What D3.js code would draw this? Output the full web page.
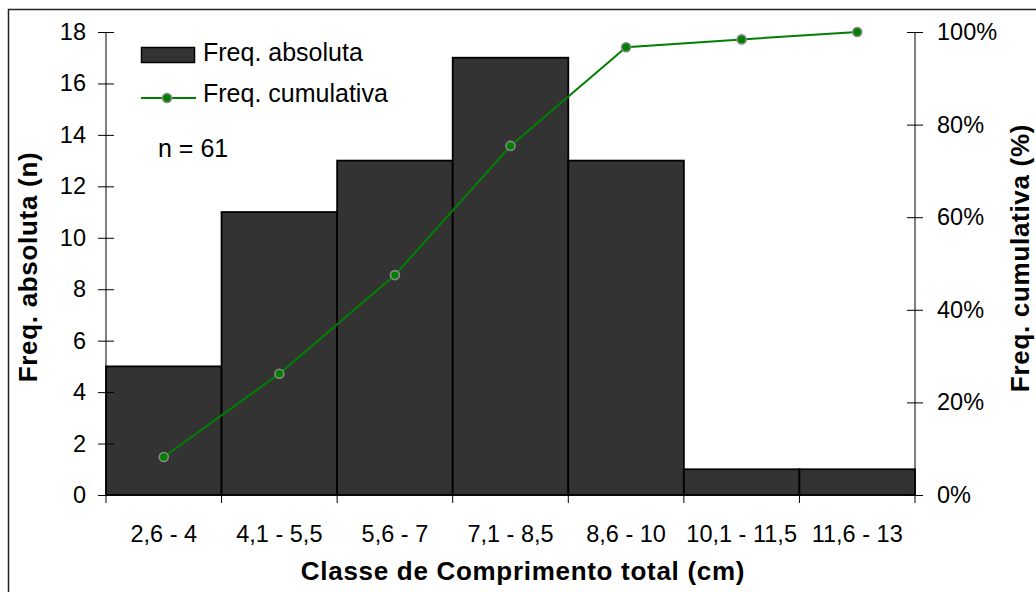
<!DOCTYPE html>
<html><head><meta charset="utf-8">
<script src="https://cdn.jsdelivr.net/npm/d3@7"></script>
<style>body{margin:0;background:#fff}svg{display:block}text{font-family:"Liberation Sans",Arial,sans-serif;fill:#000}</style>
</head><body>
<svg id="c" width="1036" height="592"></svg>
<script>
const categories = ["2,6 - 4","4,1 - 5,5","5,6 - 7","7,1 - 8,5","8,6 - 10","10,1 - 11,5","11,6 - 13"];
const freqAbs = [5, 11, 13, 17, 13, 1, 1];
const freqCum = [8.2, 26.2, 47.5, 75.4, 96.7, 98.4, 100];
const leftTicks = [0,2,4,6,8,10,12,14,16,18];
const rightTicks = [0,20,40,60,80,100];
const legendLabels = ["Freq. absoluta","Freq. cumulativa"];
const nLabel = "n = 61";
const xTitle = "Classe de Comprimento total (cm)";
const yTitleL = "Freq. absoluta (n)";
const yTitleR = "Freq. cumulativa (%)";

const svg = d3.select("#c");
const L = 106, R = 915, T = 32, B = 495;
const x = d3.scaleBand().domain(categories).range([L, R]).padding(0);
const yL = d3.scaleLinear().domain([0, 18]).range([B, T]);
const yR = d3.scaleLinear().domain([0, 100]).range([B, T]);

// outer frame
svg.append("rect").attr("x", 8.5).attr("y", 9.5).attr("width", 1100).attr("height", 700)
  .attr("fill", "none").attr("stroke", "#222").attr("stroke-width", 1.5);

// bars
svg.append("g").selectAll("rect").data(freqAbs).join("rect")
  .attr("x", (d, i) => x(categories[i]))
  .attr("y", d => yL(d))
  .attr("width", x.bandwidth())
  .attr("height", d => B - yL(d))
  .attr("fill", "#333333").attr("stroke", "#000").attr("stroke-width", 1.8);

const tickFont = "23.5px";
// left axis
const gL = svg.append("g").attr("transform", `translate(${L},0)`)
  .call(d3.axisLeft(yL).tickValues(leftTicks).tickSize(8).tickPadding(12));
gL.selectAll(".tick line").attr("x1", 8).attr("x2", -8);
// right axis
const gR = svg.append("g").attr("transform", `translate(${R},0)`)
  .call(d3.axisRight(yR).tickValues(rightTicks).tickSize(8).tickPadding(14).tickFormat(d => d + "%"));
gR.selectAll(".tick line").attr("x1", -8).attr("x2", 8);
// bottom axis
const gB = svg.append("g").attr("transform", `translate(0,${B})`)
  .call(d3.axisBottom(x).tickSize(0).tickPadding(30));
const bounds = categories.map(c => x(c)).concat([R]);
gB.selectAll(".bt").data(bounds).join("line").attr("class", "bt")
  .attr("x1", d => d).attr("x2", d => d).attr("y1", 0).attr("y2", 8).attr("stroke", "#000");

[gL, gR, gB].forEach(g => {
  g.selectAll("path.domain").remove();
  g.selectAll("text").style("font-family", '"Liberation Sans",Arial,sans-serif').style("font-size", tickFont).attr("fill", "#000");
  g.selectAll(".tick line").attr("stroke", "#000");
});
gL.append("line").attr("x1", 0).attr("x2", 0).attr("y1", T).attr("y2", B).attr("stroke", "#000");
gR.append("line").attr("x1", 0).attr("x2", 0).attr("y1", T).attr("y2", B).attr("stroke", "#000");
gB.append("line").attr("x1", L).attr("x2", R).attr("y1", 0).attr("y2", 0).attr("stroke", "#000");

// cumulative line
const line = d3.line().x((d, i) => x(categories[i]) + x.bandwidth() / 2).y(d => yR(d));
svg.append("path").datum(freqCum).attr("d", line).attr("fill", "none").attr("stroke", "#008000").attr("stroke-width", 2);
svg.append("g").selectAll("circle").data(freqCum).join("circle")
  .attr("cx", (d, i) => x(categories[i]) + x.bandwidth() / 2)
  .attr("cy", d => yR(d)).attr("r", 4.5)
  .attr("fill", "#008000").attr("stroke", "#888").attr("stroke-width", 1.6);

// legend
const legFont = "25px";
const lg = svg.append("g");
lg.append("rect").attr("x", 141.5).attr("y", 47.5).attr("width", 53).attr("height", 15)
  .attr("fill", "#333333").attr("stroke", "#000").attr("stroke-width", 1.5);
lg.append("text").attr("x", 203).attr("y", 61).style("font-size", legFont).text(legendLabels[0]);
lg.append("line").attr("x1", 141).attr("x2", 196).attr("y1", 98).attr("y2", 98).attr("stroke", "#008000").attr("stroke-width", 2);
lg.append("circle").attr("cx", 167).attr("cy", 98).attr("r", 4.5).attr("fill", "#008000").attr("stroke", "#888").attr("stroke-width", 1.6);
lg.append("text").attr("x", 203).attr("y", 102).style("font-size", legFont).text(legendLabels[1]);
svg.append("text").attr("x", 158).attr("y", 157).style("font-size", legFont).text(nLabel);

// titles
const titleStyle = sel => sel.style("font-size", "26px").style("font-weight", "bold").style("letter-spacing", "0.7px").attr("text-anchor", "middle");
svg.append("text").attr("x", 523).attr("y", 580).call(titleStyle).text(xTitle);
svg.append("text").attr("transform", `translate(37,267) rotate(-90)`).call(titleStyle).text(yTitleL);
svg.append("text").attr("transform", `translate(1029,258) rotate(-90)`).call(titleStyle).text(yTitleR);
</script>
</body></html>
